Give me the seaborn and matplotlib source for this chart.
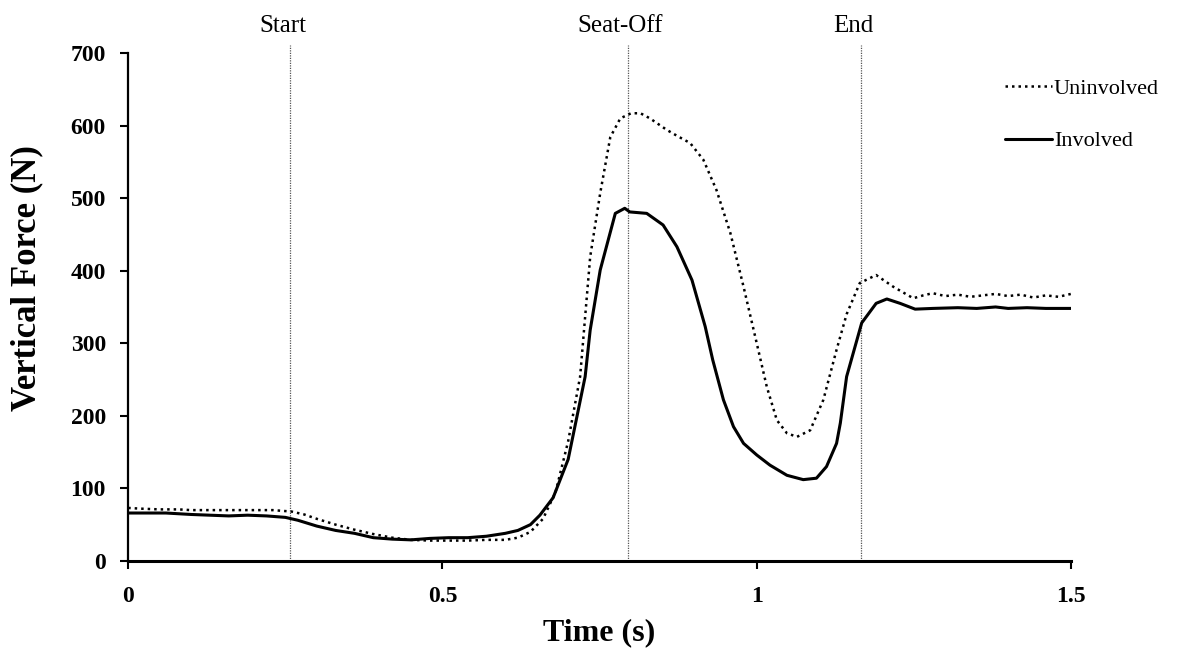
import matplotlib
matplotlib.use("Agg")
import matplotlib.pyplot as plt
import seaborn as sns
import pandas as pd

# ---- data ----
t_uninv = [0, 0.02, 0.05, 0.08, 0.1, 0.13, 0.16, 0.2, 0.23, 0.26, 0.28, 0.3, 0.33, 0.36,
           0.39, 0.42, 0.45, 0.48, 0.51, 0.54, 0.57, 0.6, 0.62, 0.64, 0.66, 0.68, 0.7,
           0.719, 0.735, 0.751, 0.767, 0.783, 0.8, 0.815, 0.83, 0.857, 0.875, 0.894,
           0.915, 0.936, 0.958, 0.979, 1.0, 1.016, 1.032, 1.048, 1.064, 1.085, 1.106,
           1.127, 1.143, 1.164, 1.19, 1.217, 1.249, 1.265, 1.28, 1.3, 1.32, 1.34, 1.36,
           1.38, 1.4, 1.42, 1.44, 1.46, 1.48, 1.5]
f_uninv = [73, 72, 71, 71, 70, 70, 70, 70, 70, 68, 64, 58, 50, 43,
           37, 32, 29, 28, 28, 28, 29, 29, 32, 40, 58, 95, 165,
           254, 419, 507, 584, 610, 617, 617, 610, 594, 585, 576,
           553, 511, 452, 378, 300, 240, 194, 176, 171, 180, 222,
           291, 340, 383, 394, 378, 362, 366, 369, 365, 367, 364, 366,
           368, 365, 367, 363, 366, 364, 368]

t_inv = [0, 0.03, 0.06, 0.08, 0.1, 0.13, 0.16, 0.19, 0.22, 0.25, 0.27, 0.3, 0.33, 0.36,
         0.39, 0.42, 0.45, 0.48, 0.51, 0.54, 0.57, 0.6, 0.62, 0.64, 0.655, 0.676, 0.7,
         0.727, 0.735, 0.751, 0.775, 0.79, 0.798, 0.825, 0.851, 0.873, 0.897, 0.918,
         0.93, 0.947, 0.963, 0.979, 1.0, 1.021, 1.048, 1.074, 1.095, 1.111, 1.127,
         1.133, 1.143, 1.167, 1.19, 1.207, 1.228, 1.252, 1.28, 1.32, 1.35, 1.38, 1.4,
         1.43, 1.46, 1.5]
f_inv = [66, 66, 66, 65, 64, 63, 62, 63, 62, 60, 56, 48, 42, 38,
         32, 30, 29, 31, 32, 32, 34, 38, 42, 50, 63, 87, 140,
         254, 318, 401, 479, 486, 481, 479, 463, 433, 387, 323,
         277, 222, 185, 162, 146, 132, 118, 112, 114, 130, 162,
         190, 254, 328, 355, 361, 355, 347, 348, 349, 348, 350, 348,
         349, 348, 348]

events = ["Start", "Seat-Off", "End"]
event_times = [0.258, 0.795, 1.166]

x_ticks = [0, 0.5, 1, 1.5]
x_ticklabels = ["0", "0.5", "1", "1.5"]
y_ticks = [0, 100, 200, 300, 400, 500, 600, 700]

# ---- plot ----
sns.set_style("ticks")
plt.rcParams["font.family"] = ["Liberation Serif", "DejaVu Serif"]
plt.rcParams["text.color"] = "black"
plt.rcParams["axes.labelcolor"] = "black"

fig = plt.figure(figsize=(11.98, 6.63), dpi=100)
ax = fig.add_axes([0.107, 0.154, 0.787, 0.766])

df_u = pd.DataFrame({"t": t_uninv, "f": f_uninv})
df_i = pd.DataFrame({"t": t_inv, "f": f_inv})

sns.lineplot(data=df_u, x="t", y="f", ax=ax, color="black", lw=1.8,
             linestyle=(0, (1, 1.6)), label="Uninvolved", sort=False)
sns.lineplot(data=df_i, x="t", y="f", ax=ax, color="black", lw=2.2,
             linestyle="-", label="Involved", sort=False)

for name, et in zip(events, event_times):
    ax.axvline(et, ymin=0, ymax=1.016, color="#555555", lw=0.9,
               linestyle=(0, (1, 1)), clip_on=False, zorder=1)
    ax.text(et - 0.012, 737, name, ha="center", va="center", fontsize=18,
            color="black", clip_on=False)

ax.set_xlim(0, 1.5)
ax.set_ylim(0, 700)
ax.set_xticks(x_ticks)
ax.set_xticklabels(x_ticklabels)
ax.set_yticks(y_ticks)
for lab in ax.get_xticklabels() + ax.get_yticklabels():
    lab.set_fontweight("bold")
    lab.set_fontsize(17)
    lab.set_color("black")
ax.tick_params(axis="both", direction="out", length=6, width=1.5, colors="black")
ax.tick_params(axis="x", pad=12)
ax.tick_params(axis="y", pad=10)

ax.set_xlabel("Time (s)", fontsize=23, fontweight="bold")
ax.set_ylabel("Vertical Force (N)", fontsize=25, fontweight="bold")
ax.xaxis.set_label_coords(0.5, -0.112)
ax.yaxis.set_label_coords(-0.090, 0.557)

sns.despine(ax=ax)
ax.spines["left"].set_linewidth(1.6)
ax.spines["bottom"].set_linewidth(2.2)
ax.spines["left"].set_color("black")
ax.spines["bottom"].set_color("black")

leg = ax.legend(loc="upper left", bbox_to_anchor=(1005 / 1198, 1 - 78 / 663),
                bbox_transform=fig.transFigure, frameon=False, fontsize=16,
                handlelength=2.1, handletextpad=0.1, labelspacing=1.45,
                borderaxespad=0, borderpad=0)
for txt in leg.get_texts():
    txt.set_color("black")

fig.savefig("out.png", dpi=100)
